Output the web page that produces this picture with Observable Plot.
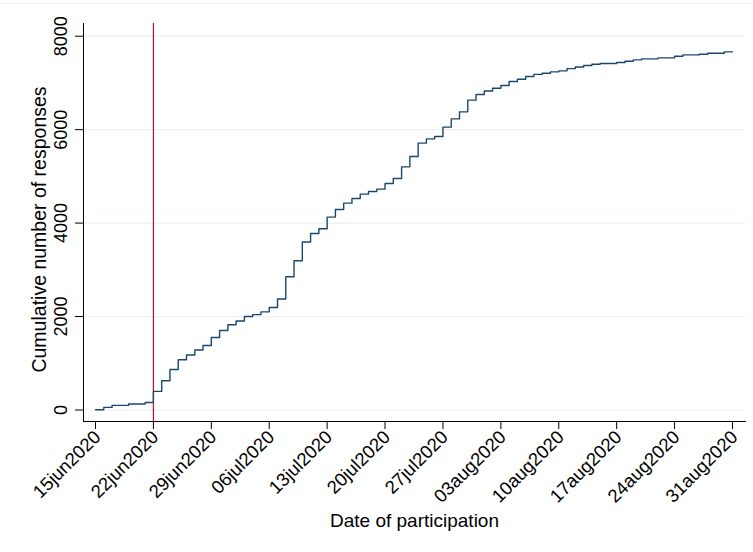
<!DOCTYPE html>
<html><head><meta charset="utf-8">
<script src="https://cdn.jsdelivr.net/npm/d3@7"></script>
<script src="https://cdn.jsdelivr.net/npm/@observablehq/plot@0.6"></script>
<style>
body{margin:0;background:#fff;}
#chart{position:relative;width:753px;height:552px;overflow:hidden;}
#chart svg{display:block;}
#topline{position:absolute;left:0;top:3px;width:753px;height:1px;background:#eef2f2;}
</style></head><body><div id="chart"><div id="topline"></div></div>
<script>
// Cumulative responses, one value per day starting 15 Jun 2020
const firstDay = "2020-06-15";
const responses = [
  5, 56, 99, 99, 128, 128, 160, 398, 627, 868,
  1076, 1176, 1283, 1382, 1553, 1703, 1825, 1904, 2002, 2042,
  2100, 2195, 2377, 2851, 3194, 3594, 3779, 3878, 4128, 4291,
  4427, 4526, 4620, 4676, 4727, 4847, 4954, 5204, 5425, 5711,
  5803, 5853, 6054, 6231, 6381, 6631, 6752, 6828, 6885, 6945,
  7029, 7080, 7136, 7183, 7208, 7237, 7258, 7307, 7340, 7372,
  7400, 7415, 7415, 7436, 7465, 7493, 7515, 7515, 7536, 7536,
  7572, 7600, 7600, 7615, 7636, 7636, 7665, 7665
];
const tickDates = ["2020-06-15","2020-06-22","2020-06-29","2020-07-06","2020-07-13","2020-07-20",
  "2020-07-27","2020-08-03","2020-08-10","2020-08-17","2020-08-24","2020-08-31"];
const tickLabels = ["15jun2020","22jun2020","29jun2020","06jul2020","13jul2020","20jul2020",
  "27jul2020","03aug2020","10aug2020","17aug2020","24aug2020","31aug2020"];
const yTicks = [0, 2000, 4000, 6000, 8000];
const markerDate = "2020-06-22";
const xTitle = "Date of participation";
const yTitle = "Cumulative number of responses";

const start = new Date(firstDay);
const data = responses.map((v, i) => ({date: d3.utcDay.offset(start, i), n: v}));
const ticks = tickDates.map(d => new Date(d));

const tickFont = "'Liberation Sans Narrow','Arial Narrow',Arial,'Liberation Sans',sans-serif";

const chart = Plot.plot({
  width: 753,
  height: 552,
  marginLeft: 83,
  marginRight: 8,
  marginTop: 23,
  marginBottom: 131,
  insetLeft: 12,
  insetRight: 13,
  insetTop: 12.7,
  insetBottom: 11.5,
  style: {fontFamily: "Arial,'Liberation Sans',sans-serif", background: "white", color: "#000", overflow: "visible"},
  x: {type: "utc", domain: [ticks[0], ticks[ticks.length - 1]]},
  y: {domain: [0, 8000]},
  marks: [
    Plot.gridY(yTicks, {stroke: "#eaf2f3", strokeOpacity: 1, strokeWidth: 1.2}),
    Plot.ruleX([new Date(markerDate)], {stroke: "#c8102e", strokeWidth: 1.2}),
    Plot.line(data, {x: "date", y: "n", curve: "step-after", stroke: "#1a476f", strokeWidth: 1.4}),
    Plot.frame({anchor: "left", stroke: "#000"}),
    Plot.frame({anchor: "bottom", stroke: "#000"}),
    Plot.axisX(ticks, {tickSize: 8, fill: "none", label: null}),
    Plot.axisY(yTicks, {tickSize: 8, fill: "none", label: null}),
    Plot.text(yTicks, {
      y: d => d, text: d => String(d), frameAnchor: "left", dx: -16.5,
      rotate: -90, textAnchor: "middle", lineAnchor: "bottom",
      fontSize: 18, fontFamily: tickFont, fill: "#000"
    }),
    Plot.text(ticks, {
      x: d => d, text: (d, i) => tickLabels[i], frameAnchor: "bottom", dx: 2, dy: 12.5,
      rotate: -45, textAnchor: "end", lineAnchor: "middle",
      fontSize: 18.5, fill: "#000"
    }),
    Plot.text([xTitle], {
      frameAnchor: "bottom", dy: 105.7, lineAnchor: "bottom", textAnchor: "middle",
      fontSize: 19, fill: "#000"
    }),
    Plot.text([yTitle], {
      frameAnchor: "left", dx: -38, dy: 7, rotate: -90, lineAnchor: "bottom", textAnchor: "middle",
      fontSize: 19.5, fill: "#000"
    })
  ]
});
document.getElementById("chart").appendChild(chart);
</script>
</body></html>
